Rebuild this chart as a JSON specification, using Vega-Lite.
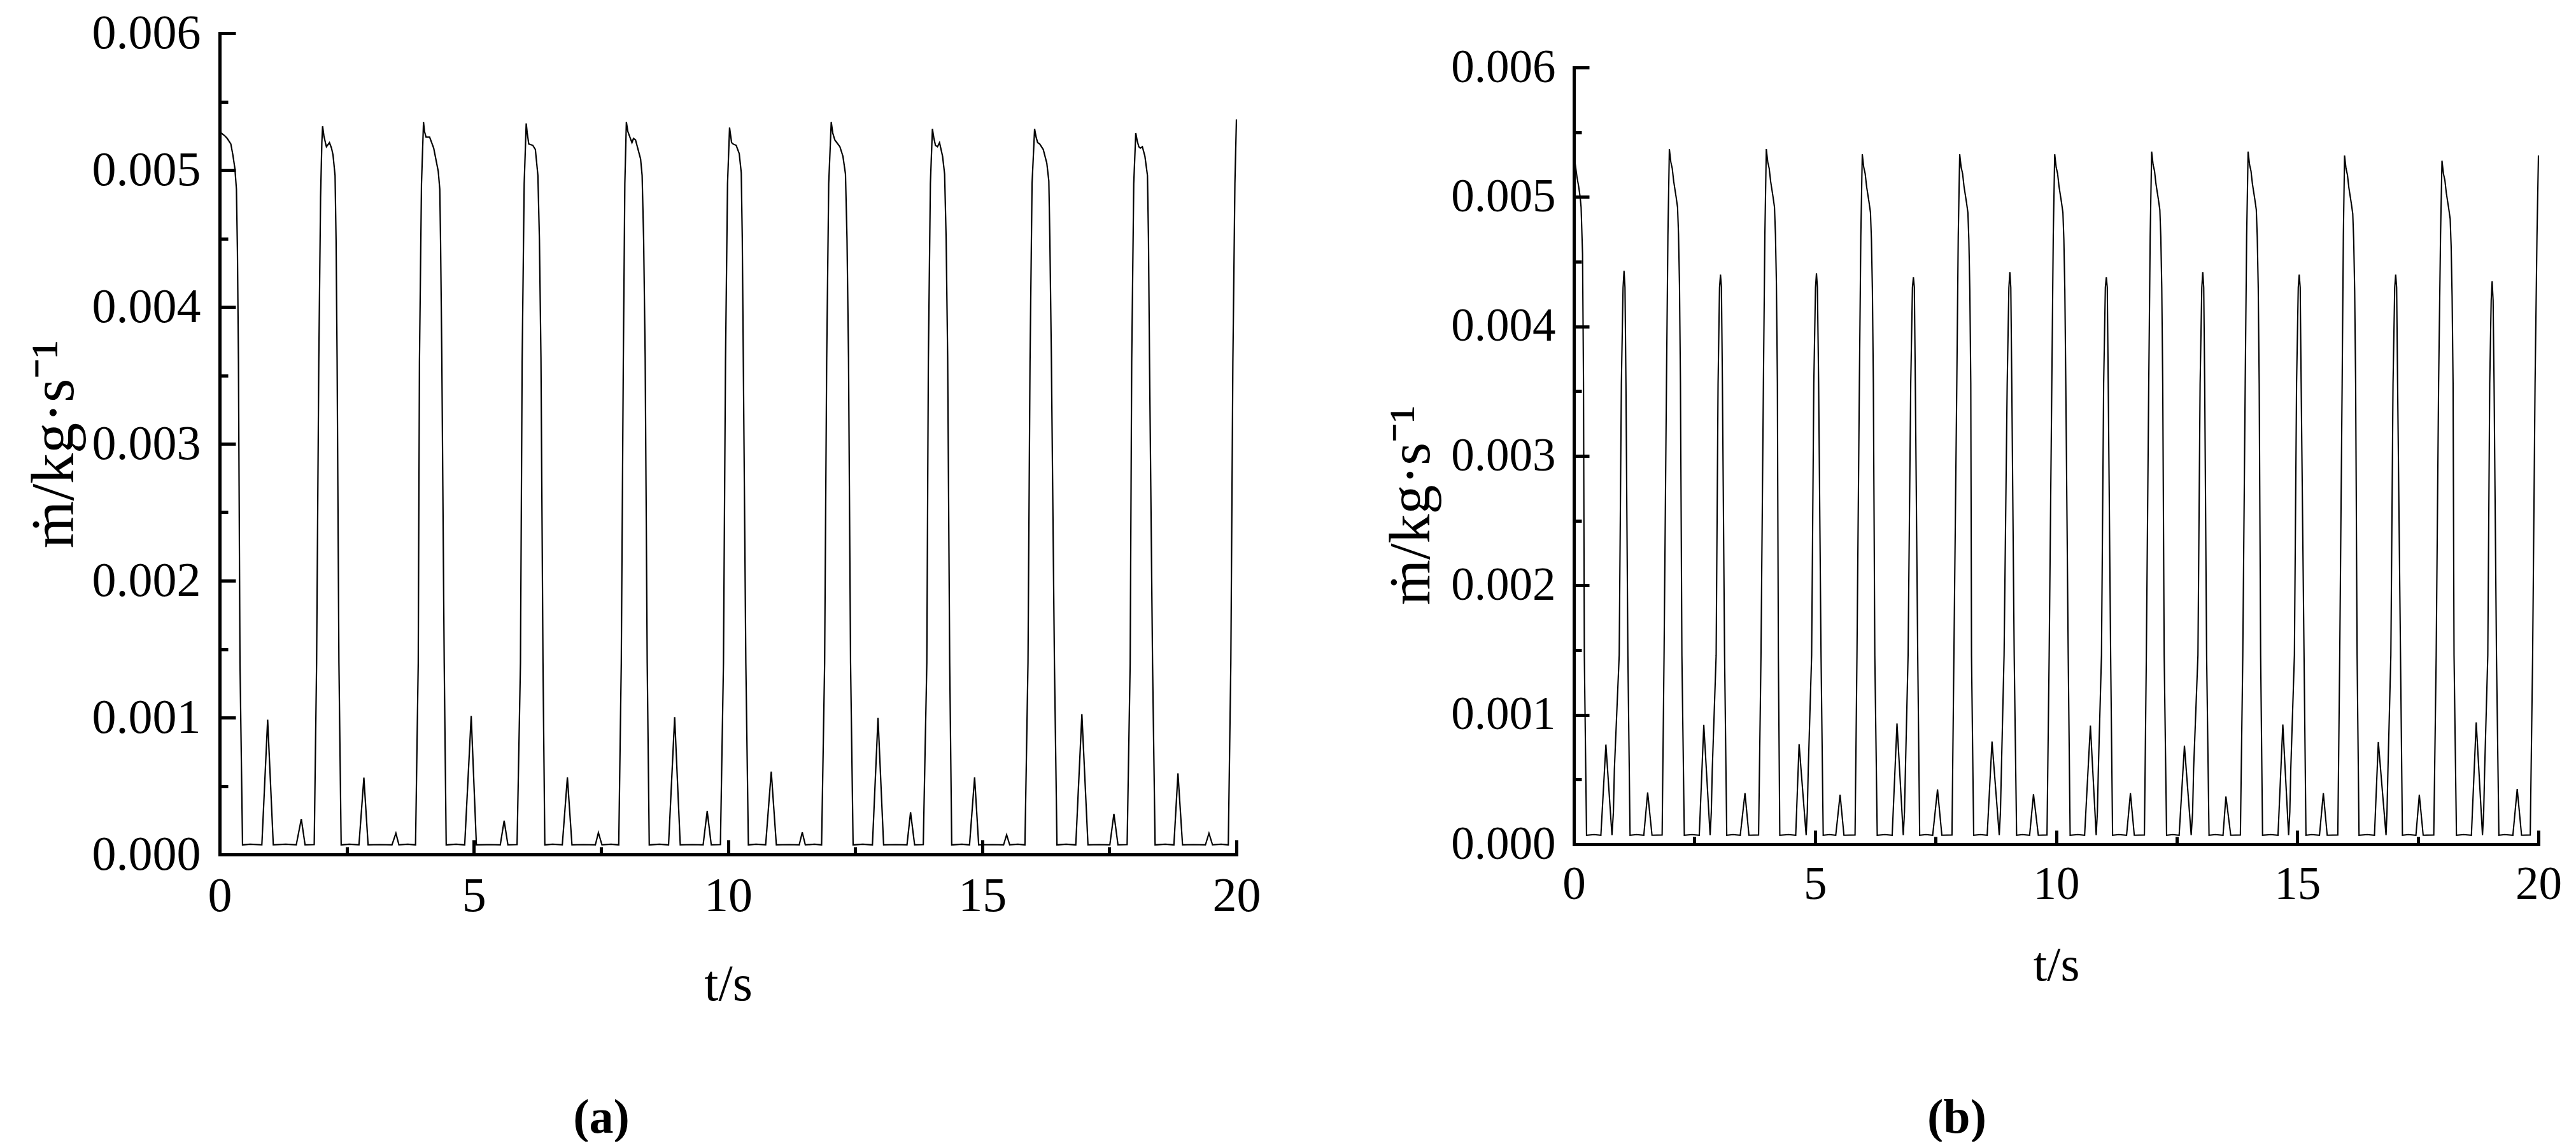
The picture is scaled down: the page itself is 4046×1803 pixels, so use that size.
{
  "$schema": "https://vega.github.io/schema/vega-lite/v6.json",
  "background": "white",
  "padding": {"left": 37, "top": 14, "right": 0, "bottom": 0},
  "spacing": 190,
  "config": {
    "font": "Liberation Serif",
    "view": {"stroke": null},
    "axis": {
      "grid": false,
      "domainColor": "black",
      "tickColor": "black",
      "labelColor": "black",
      "titleColor": "black",
      "domainWidth": 5,
      "tickWidth": 5,
      "domainCap": "square",
      "labelFont": "Liberation Serif",
      "titleFont": "Liberation Serif",
      "titleFontWeight": "normal",
      "labelFlush": false,
      "labelOverlap": false
    }
  },
  "datasets": {
    "a": [
      {"t":0,"m":0.00533},{"t":0.03,"m":0.00527},{"t":0.066,"m":0.00526},{"t":0.1,"m":0.00525},{"t":0.15,"m":0.00523},{"t":0.22,"m":0.00519},{"t":0.26,"m":0.00511},{"t":0.3,"m":0.00501},{"t":0.33,"m":0.00486},{"t":0.35,"m":0.0044},{"t":0.37,"m":0.0036},{"t":0.4,"m":0.0014},{"t":0.45,"m":0.00007},
      {"t":0.6,"m":0.000075},{"t":0.83,"m":0.00007},{"t":0.944,"m":0.000985},{"t":1.055,"m":0.00007},{"t":1.3,"m":0.000075},{"t":1.507,"m":0.00007},{"t":1.606,"m":0.00026},{"t":1.68,"m":0.00007},{"t":1.86,"m":0.000072},
      {"t":1.907,"m":0.0014},{"t":1.95,"m":0.0036},{"t":1.985,"m":0.0048},{"t":2.01,"m":0.0052},{"t":2.025,"m":0.00532},{"t":2.05,"m":0.00525},{"t":2.08,"m":0.0052},{"t":2.1,"m":0.00517},{"t":2.16,"m":0.0052},{"t":2.2,"m":0.00516},{"t":2.23,"m":0.00511},{"t":2.27,"m":0.00496},{"t":2.29,"m":0.00449},{"t":2.31,"m":0.00363},{"t":2.346,"m":0.0014},{"t":2.39,"m":0.00007},
      {"t":2.55,"m":0.000075},{"t":2.74,"m":0.00007},{"t":2.837,"m":0.000561},{"t":2.92,"m":0.00007},{"t":3.15,"m":0.000072},{"t":3.39,"m":0.00007},{"t":3.467,"m":0.000155},{"t":3.526,"m":0.00007},{"t":3.7,"m":0.000075},{"t":3.853,"m":0.00007},
      {"t":3.906,"m":0.0014},{"t":3.93,"m":0.0036},{"t":3.97,"m":0.0049},{"t":4.01,"m":0.00535},{"t":4.03,"m":0.00528},{"t":4.06,"m":0.00524},{"t":4.13,"m":0.00524},{"t":4.21,"m":0.00516},{"t":4.3,"m":0.00499},{"t":4.33,"m":0.00486},{"t":4.345,"m":0.00449},{"t":4.37,"m":0.00363},{"t":4.417,"m":0.0014},{"t":4.456,"m":0.00007},
      {"t":4.65,"m":0.000075},{"t":4.82,"m":0.00007},{"t":4.948,"m":0.001012},{"t":5.05,"m":0.00007},{"t":5.3,"m":0.000072},{"t":5.52,"m":0.00007},{"t":5.596,"m":0.000247},{"t":5.67,"m":0.00007},{"t":5.85,"m":0.000072},
      {"t":5.917,"m":0.0014},{"t":5.95,"m":0.0036},{"t":5.99,"m":0.0049},{"t":6.03,"m":0.00534},{"t":6.05,"m":0.00527},{"t":6.08,"m":0.00519},{"t":6.16,"m":0.00518},{"t":6.21,"m":0.00515},{"t":6.26,"m":0.00496},{"t":6.29,"m":0.00449},{"t":6.32,"m":0.00363},{"t":6.36,"m":0.0014},{"t":6.396,"m":0.00007},
      {"t":6.55,"m":0.000075},{"t":6.74,"m":0.00007},{"t":6.84,"m":0.000564},{"t":6.93,"m":0.00007},{"t":7.15,"m":0.000072},{"t":7.39,"m":0.00007},{"t":7.45,"m":0.000159},{"t":7.52,"m":0.00007},{"t":7.7,"m":0.000075},{"t":7.85,"m":0.00007},
      {"t":7.9,"m":0.0014},{"t":7.94,"m":0.0036},{"t":7.97,"m":0.0049},{"t":8.0,"m":0.00535},{"t":8.03,"m":0.00528},{"t":8.08,"m":0.00523},{"t":8.11,"m":0.0052},{"t":8.14,"m":0.00523},{"t":8.18,"m":0.00522},{"t":8.28,"m":0.00508},{"t":8.31,"m":0.00496},{"t":8.34,"m":0.00449},{"t":8.37,"m":0.00363},{"t":8.41,"m":0.0014},{"t":8.45,"m":0.00007},
      {"t":8.65,"m":0.000075},{"t":8.83,"m":0.00007},{"t":8.95,"m":0.001003},{"t":9.06,"m":0.00007},{"t":9.3,"m":0.000072},{"t":9.51,"m":0.00007},{"t":9.59,"m":0.000317},{"t":9.67,"m":0.00007},{"t":9.85,"m":0.000072},
      {"t":9.91,"m":0.0014},{"t":9.95,"m":0.0036},{"t":9.99,"m":0.0049},{"t":10.03,"m":0.00531},{"t":10.07,"m":0.0052},{"t":10.1,"m":0.00519},{"t":10.16,"m":0.00518},{"t":10.22,"m":0.00512},{"t":10.26,"m":0.00498},{"t":10.28,"m":0.0045},{"t":10.3,"m":0.00363},{"t":10.35,"m":0.0014},{"t":10.4,"m":0.00007},
      {"t":10.55,"m":0.000075},{"t":10.74,"m":0.00007},{"t":10.85,"m":0.000606},{"t":10.95,"m":0.00007},{"t":11.2,"m":0.000072},{"t":11.4,"m":0.00007},{"t":11.46,"m":0.000162},{"t":11.52,"m":0.00007},{"t":11.7,"m":0.000075},{"t":11.84,"m":0.00007},
      {"t":11.9,"m":0.0014},{"t":11.94,"m":0.0036},{"t":11.98,"m":0.0049},{"t":12.03,"m":0.00535},{"t":12.06,"m":0.00527},{"t":12.1,"m":0.00522},{"t":12.14,"m":0.0052},{"t":12.2,"m":0.00517},{"t":12.26,"m":0.0051},{"t":12.31,"m":0.00497},{"t":12.34,"m":0.0045},{"t":12.37,"m":0.00363},{"t":12.41,"m":0.0014},{"t":12.46,"m":0.00007},
      {"t":12.65,"m":0.000075},{"t":12.84,"m":0.00007},{"t":12.95,"m":0.000997},{"t":13.06,"m":0.00007},{"t":13.3,"m":0.000072},{"t":13.52,"m":0.00007},{"t":13.59,"m":0.000309},{"t":13.67,"m":0.00007},{"t":13.84,"m":0.000072},
      {"t":13.91,"m":0.0014},{"t":13.94,"m":0.0036},{"t":13.98,"m":0.0049},{"t":14.02,"m":0.0053},{"t":14.05,"m":0.00523},{"t":14.08,"m":0.00518},{"t":14.12,"m":0.00517},{"t":14.16,"m":0.0052},{"t":14.22,"m":0.0051},{"t":14.26,"m":0.00497},{"t":14.29,"m":0.0045},{"t":14.32,"m":0.00363},{"t":14.36,"m":0.0014},{"t":14.4,"m":0.00007},
      {"t":14.6,"m":0.000075},{"t":14.75,"m":0.00007},{"t":14.85,"m":0.000564},{"t":14.93,"m":0.00007},{"t":15.2,"m":0.000072},{"t":15.42,"m":0.00007},{"t":15.48,"m":0.000144},{"t":15.54,"m":0.00007},{"t":15.7,"m":0.000075},{"t":15.84,"m":0.00007},
      {"t":15.9,"m":0.0014},{"t":15.94,"m":0.0036},{"t":15.98,"m":0.0049},{"t":16.03,"m":0.0053},{"t":16.06,"m":0.00524},{"t":16.09,"m":0.0052},{"t":16.13,"m":0.00519},{"t":16.2,"m":0.00515},{"t":16.27,"m":0.00505},{"t":16.31,"m":0.00492},{"t":16.33,"m":0.0045},{"t":16.36,"m":0.00363},{"t":16.42,"m":0.0014},{"t":16.47,"m":0.00007},
      {"t":16.65,"m":0.000075},{"t":16.84,"m":0.00007},{"t":16.96,"m":0.001025},{"t":17.08,"m":0.00007},{"t":17.3,"m":0.000072},{"t":17.51,"m":0.00007},{"t":17.59,"m":0.000297},{"t":17.67,"m":0.00007},{"t":17.85,"m":0.000072},
      {"t":17.91,"m":0.0014},{"t":17.94,"m":0.0036},{"t":17.98,"m":0.0049},{"t":18.02,"m":0.00527},{"t":18.05,"m":0.00521},{"t":18.08,"m":0.00517},{"t":18.11,"m":0.00516},{"t":18.15,"m":0.00517},{"t":18.2,"m":0.0051},{"t":18.25,"m":0.00496},{"t":18.27,"m":0.0045},{"t":18.29,"m":0.00363},{"t":18.35,"m":0.0014},{"t":18.4,"m":0.00007},
      {"t":18.6,"m":0.000075},{"t":18.77,"m":0.00007},{"t":18.85,"m":0.000593},{"t":18.94,"m":0.00007},{"t":19.15,"m":0.000072},{"t":19.39,"m":0.00007},{"t":19.46,"m":0.000155},{"t":19.53,"m":0.00007},{"t":19.7,"m":0.000075},{"t":19.84,"m":0.00007},
      {"t":19.89,"m":0.0014},{"t":19.93,"m":0.0036},{"t":19.97,"m":0.0049},{"t":20.0,"m":0.00537}
    ],
    "b": [
      {"t":0,"m":0.00535},{"t":0.03,"m":0.00525},{"t":0.066,"m":0.00515},{"t":0.1,"m":0.00508},{"t":0.13,"m":0.005},{"t":0.15,"m":0.00492},{"t":0.18,"m":0.00456},{"t":0.2,"m":0.00356},{"t":0.217,"m":0.00146},{"t":0.263,"m":0.00007},
      {"t":0.42,"m":0.000075},{"t":0.56,"m":0.00007},{"t":0.664,"m":0.00077},{"t":0.79,"m":0.00007},{"t":0.82,"m":0.00025},{"t":0.84,"m":0.00058},{"t":0.94,"m":0.00146},{"t":0.985,"m":0.00356},{"t":1.02,"m":0.0043},{"t":1.04,"m":0.00443},{"t":1.06,"m":0.0043},{"t":1.08,"m":0.00356},{"t":1.12,"m":0.00146},{"t":1.165,"m":0.00007},{"t":1.3,"m":0.000075},{"t":1.45,"m":0.00007},{"t":1.53,"m":0.0004},{"t":1.62,"m":0.00007},{"t":1.83,"m":0.000072},
      {"t":1.87,"m":0.00146},{"t":1.92,"m":0.00356},{"t":1.95,"m":0.0047},{"t":1.98,"m":0.00537},{"t":2.01,"m":0.00527},{"t":2.04,"m":0.00522},{"t":2.07,"m":0.00512},{"t":2.12,"m":0.005},{"t":2.15,"m":0.00492},{"t":2.17,"m":0.00471},{"t":2.19,"m":0.00432},{"t":2.21,"m":0.00356},{"t":2.24,"m":0.00146},{"t":2.29,"m":0.00007},
      {"t":2.45,"m":0.000075},{"t":2.6,"m":0.00007},{"t":2.694,"m":0.000922},{"t":2.825,"m":0.00007},{"t":2.85,"m":0.00025},{"t":2.87,"m":0.00058},{"t":2.95,"m":0.00146},{"t":2.99,"m":0.00356},{"t":3.02,"m":0.0043},{"t":3.04,"m":0.0044},{"t":3.06,"m":0.0043},{"t":3.08,"m":0.00356},{"t":3.125,"m":0.00146},{"t":3.17,"m":0.00007},{"t":3.3,"m":0.000075},{"t":3.45,"m":0.00007},{"t":3.548,"m":0.000395},{"t":3.63,"m":0.00007},{"t":3.83,"m":0.000072},
      {"t":3.88,"m":0.00146},{"t":3.93,"m":0.00356},{"t":3.96,"m":0.0047},{"t":3.99,"m":0.00537},{"t":4.02,"m":0.00527},{"t":4.05,"m":0.00522},{"t":4.08,"m":0.00512},{"t":4.13,"m":0.005},{"t":4.16,"m":0.00492},{"t":4.18,"m":0.00471},{"t":4.2,"m":0.00432},{"t":4.22,"m":0.00356},{"t":4.24,"m":0.00146},{"t":4.27,"m":0.00007},
      {"t":4.45,"m":0.000075},{"t":4.6,"m":0.00007},{"t":4.67,"m":0.000773},{"t":4.816,"m":0.00007},{"t":4.84,"m":0.00025},{"t":4.86,"m":0.00058},{"t":4.93,"m":0.00146},{"t":4.975,"m":0.00356},{"t":5.01,"m":0.0043},{"t":5.03,"m":0.00441},{"t":5.05,"m":0.0043},{"t":5.075,"m":0.00356},{"t":5.125,"m":0.00146},{"t":5.17,"m":0.00007},{"t":5.3,"m":0.000075},{"t":5.43,"m":0.00007},{"t":5.52,"m":0.000383},{"t":5.6,"m":0.00007},{"t":5.83,"m":0.000072},
      {"t":5.87,"m":0.00146},{"t":5.92,"m":0.00356},{"t":5.95,"m":0.0047},{"t":5.98,"m":0.00533},{"t":6.01,"m":0.00523},{"t":6.04,"m":0.00518},{"t":6.07,"m":0.00508},{"t":6.12,"m":0.00496},{"t":6.15,"m":0.00488},{"t":6.17,"m":0.00467},{"t":6.19,"m":0.00428},{"t":6.21,"m":0.00356},{"t":6.24,"m":0.00146},{"t":6.29,"m":0.00007},
      {"t":6.45,"m":0.000075},{"t":6.6,"m":0.00007},{"t":6.7,"m":0.000933},{"t":6.83,"m":0.00007},{"t":6.855,"m":0.00025},{"t":6.875,"m":0.00058},{"t":6.93,"m":0.00146},{"t":6.985,"m":0.00356},{"t":7.02,"m":0.0043},{"t":7.04,"m":0.00438},{"t":7.06,"m":0.0043},{"t":7.08,"m":0.00356},{"t":7.13,"m":0.00146},{"t":7.17,"m":0.00007},{"t":7.3,"m":0.000075},{"t":7.44,"m":0.00007},{"t":7.54,"m":0.000424},{"t":7.63,"m":0.00007},{"t":7.84,"m":0.000072},
      {"t":7.88,"m":0.00146},{"t":7.94,"m":0.00356},{"t":7.97,"m":0.0047},{"t":8.0,"m":0.00533},{"t":8.03,"m":0.00523},{"t":8.06,"m":0.00518},{"t":8.09,"m":0.00508},{"t":8.14,"m":0.00496},{"t":8.17,"m":0.00488},{"t":8.19,"m":0.00467},{"t":8.21,"m":0.00428},{"t":8.23,"m":0.00356},{"t":8.245,"m":0.00146},{"t":8.29,"m":0.00007},
      {"t":8.43,"m":0.000075},{"t":8.57,"m":0.00007},{"t":8.67,"m":0.000794},{"t":8.82,"m":0.00007},{"t":8.845,"m":0.00025},{"t":8.865,"m":0.00058},{"t":8.92,"m":0.00146},{"t":8.985,"m":0.00356},{"t":9.02,"m":0.0043},{"t":9.04,"m":0.00442},{"t":9.06,"m":0.0043},{"t":9.08,"m":0.00356},{"t":9.13,"m":0.00146},{"t":9.18,"m":0.00007},{"t":9.3,"m":0.000075},{"t":9.45,"m":0.00007},{"t":9.53,"m":0.000387},{"t":9.63,"m":0.00007},{"t":9.81,"m":0.000072},
      {"t":9.855,"m":0.00146},{"t":9.91,"m":0.00356},{"t":9.94,"m":0.0047},{"t":9.97,"m":0.00533},{"t":10.0,"m":0.00523},{"t":10.03,"m":0.00518},{"t":10.06,"m":0.00508},{"t":10.11,"m":0.00496},{"t":10.14,"m":0.00488},{"t":10.16,"m":0.00467},{"t":10.18,"m":0.00428},{"t":10.2,"m":0.00356},{"t":10.25,"m":0.00146},{"t":10.29,"m":0.00007},
      {"t":10.45,"m":0.000075},{"t":10.59,"m":0.00007},{"t":10.71,"m":0.000917},{"t":10.83,"m":0.00007},{"t":10.855,"m":0.00025},{"t":10.875,"m":0.00058},{"t":10.94,"m":0.00146},{"t":10.985,"m":0.00356},{"t":11.02,"m":0.0043},{"t":11.04,"m":0.00438},{"t":11.06,"m":0.0043},{"t":11.08,"m":0.00356},{"t":11.13,"m":0.00146},{"t":11.17,"m":0.00007},{"t":11.3,"m":0.000075},{"t":11.46,"m":0.00007},{"t":11.54,"m":0.000395},{"t":11.62,"m":0.00007},{"t":11.83,"m":0.000072},
      {"t":11.87,"m":0.00146},{"t":11.92,"m":0.00356},{"t":11.95,"m":0.0047},{"t":11.98,"m":0.00535},{"t":12.01,"m":0.00525},{"t":12.04,"m":0.0052},{"t":12.07,"m":0.0051},{"t":12.12,"m":0.00498},{"t":12.15,"m":0.0049},{"t":12.17,"m":0.00469},{"t":12.19,"m":0.0043},{"t":12.21,"m":0.00356},{"t":12.24,"m":0.00146},{"t":12.29,"m":0.00007},
      {"t":12.42,"m":0.000075},{"t":12.55,"m":0.00007},{"t":12.66,"m":0.000762},{"t":12.8,"m":0.00007},{"t":12.83,"m":0.00025},{"t":12.85,"m":0.00058},{"t":12.94,"m":0.00146},{"t":12.985,"m":0.00356},{"t":13.02,"m":0.0043},{"t":13.04,"m":0.00442},{"t":13.06,"m":0.0043},{"t":13.08,"m":0.00356},{"t":13.12,"m":0.00146},{"t":13.17,"m":0.00007},{"t":13.3,"m":0.000075},{"t":13.46,"m":0.00007},{"t":13.52,"m":0.00037},{"t":13.62,"m":0.00007},{"t":13.82,"m":0.000072},
      {"t":13.87,"m":0.00146},{"t":13.92,"m":0.00356},{"t":13.95,"m":0.0047},{"t":13.98,"m":0.00535},{"t":14.01,"m":0.00525},{"t":14.04,"m":0.0052},{"t":14.07,"m":0.0051},{"t":14.12,"m":0.00498},{"t":14.15,"m":0.0049},{"t":14.17,"m":0.00469},{"t":14.19,"m":0.0043},{"t":14.21,"m":0.00356},{"t":14.24,"m":0.00146},{"t":14.28,"m":0.00007},
      {"t":14.45,"m":0.000075},{"t":14.6,"m":0.00007},{"t":14.7,"m":0.000925},{"t":14.82,"m":0.00007},{"t":14.845,"m":0.00025},{"t":14.865,"m":0.00058},{"t":14.94,"m":0.00146},{"t":14.985,"m":0.00356},{"t":15.02,"m":0.0043},{"t":15.04,"m":0.0044},{"t":15.06,"m":0.0043},{"t":15.08,"m":0.00356},{"t":15.14,"m":0.00146},{"t":15.18,"m":0.00007},{"t":15.3,"m":0.000075},{"t":15.46,"m":0.00007},{"t":15.54,"m":0.000395},{"t":15.62,"m":0.00007},{"t":15.84,"m":0.000072},
      {"t":15.88,"m":0.00146},{"t":15.93,"m":0.00356},{"t":15.955,"m":0.0047},{"t":15.98,"m":0.00532},{"t":16.01,"m":0.00522},{"t":16.04,"m":0.00517},{"t":16.07,"m":0.00507},{"t":16.12,"m":0.00495},{"t":16.15,"m":0.00487},{"t":16.17,"m":0.00466},{"t":16.19,"m":0.00427},{"t":16.21,"m":0.00356},{"t":16.24,"m":0.00146},{"t":16.28,"m":0.00007},
      {"t":16.45,"m":0.000075},{"t":16.6,"m":0.00007},{"t":16.68,"m":0.000791},{"t":16.84,"m":0.00007},{"t":16.86,"m":0.00025},{"t":16.88,"m":0.00058},{"t":16.94,"m":0.00146},{"t":16.985,"m":0.00356},{"t":17.02,"m":0.0043},{"t":17.04,"m":0.0044},{"t":17.06,"m":0.0043},{"t":17.08,"m":0.00356},{"t":17.14,"m":0.00146},{"t":17.18,"m":0.00007},{"t":17.3,"m":0.000075},{"t":17.46,"m":0.00007},{"t":17.53,"m":0.000383},{"t":17.61,"m":0.00007},{"t":17.83,"m":0.000072},
      {"t":17.88,"m":0.00146},{"t":17.93,"m":0.00356},{"t":17.97,"m":0.0047},{"t":18.0,"m":0.00528},{"t":18.03,"m":0.00518},{"t":18.06,"m":0.00513},{"t":18.09,"m":0.00503},{"t":18.14,"m":0.00491},{"t":18.17,"m":0.00483},{"t":18.19,"m":0.00462},{"t":18.21,"m":0.00423},{"t":18.23,"m":0.00356},{"t":18.25,"m":0.00146},{"t":18.3,"m":0.00007},
      {"t":18.45,"m":0.000075},{"t":18.61,"m":0.00007},{"t":18.71,"m":0.000941},{"t":18.84,"m":0.00007},{"t":18.865,"m":0.00025},{"t":18.885,"m":0.00058},{"t":18.95,"m":0.00146},{"t":18.99,"m":0.00356},{"t":19.02,"m":0.0042},{"t":19.04,"m":0.00435},{"t":19.06,"m":0.0042},{"t":19.08,"m":0.00356},{"t":19.13,"m":0.00146},{"t":19.18,"m":0.00007},{"t":19.3,"m":0.000075},{"t":19.47,"m":0.00007},{"t":19.56,"m":0.000427},{"t":19.65,"m":0.00007},{"t":19.83,"m":0.000072},
      {"t":19.88,"m":0.00146},{"t":19.93,"m":0.00356},{"t":19.97,"m":0.0047},{"t":20.0,"m":0.00532}
    ]
  },
  "hconcat": [
    {
      "width": 1597,
      "height": 1290,
      "data": {"name": "a"},
      "layer": [
        {
          "mark": {"type": "line", "color": "black", "strokeWidth": 2.2},
          "encoding": {
            "x": {"field": "t", "type": "quantitative", "scale": {"domain": [0, 20], "nice": false},
              "axis": {"orient": "bottom", "values": [0, 5, 10, 15, 20], "tickSize": -23, "labelPadding": 51, "labelFontSize": 76, "title": "t/s", "titleFontSize": 80, "titlePadding": 62}},
            "y": {"field": "m", "type": "quantitative", "scale": {"domain": [0, 0.006], "nice": false},
              "axis": {"orient": "left", "values": [0, 0.001, 0.002, 0.003, 0.004, 0.005, 0.006], "format": ".3f", "tickSize": -25, "labelPadding": 55, "labelFontSize": 76, "title": "ṁ/kg·s⁻¹", "titleFontSize": 96, "titlePadding": 11}}
          }
        },
        {
          "mark": {"type": "line", "strokeOpacity": 0},
          "encoding": {
            "x": {"field": "t", "type": "quantitative",
              "axis": {"orient": "bottom", "values": [2.5, 7.5, 12.5, 17.5], "tickSize": -12, "labels": false, "domain": false, "title": "(a)", "titleFontSize": 76, "titleFontWeight": "bold", "titleX": 599, "titleY": 413, "titleAlign": "center", "titleBaseline": "middle"}},
            "y": {"field": "m", "type": "quantitative",
              "axis": {"orient": "left", "values": [0.0005, 0.0015, 0.0025, 0.0035, 0.0045, 0.0055], "tickSize": -13, "labels": false, "domain": false, "title": null}}
          }
        }
      ],
      "resolve": {"axis": {"x": "independent", "y": "independent"}}
    },
    {
      "width": 1515,
      "height": 1274,
      "data": {"name": "b"},
      "layer": [
        {
          "mark": {"type": "line", "color": "black", "strokeWidth": 2.1},
          "encoding": {
            "x": {"field": "t", "type": "quantitative", "scale": {"domain": [0, 20], "nice": false},
              "axis": {"orient": "bottom", "values": [0, 5, 10, 15, 20], "tickSize": -22, "labelPadding": 49, "labelFontSize": 73, "title": "t/s", "titleFontSize": 77, "titlePadding": 52}},
            "y": {"field": "m", "type": "quantitative", "scale": {"domain": [0, 0.006], "nice": false, "range": [1274, 54]},
              "axis": {"orient": "left", "values": [0, 0.001, 0.002, 0.003, 0.004, 0.005, 0.006], "format": ".3f", "tickSize": -24, "labelPadding": 53, "labelFontSize": 73, "title": "ṁ/kg·s⁻¹", "titleFontSize": 92, "titlePadding": 15, "titleY": 741}}
          }
        },
        {
          "mark": {"type": "line", "strokeOpacity": 0},
          "encoding": {
            "x": {"field": "t", "type": "quantitative",
              "axis": {"orient": "bottom", "values": [2.5, 7.5, 12.5, 17.5], "tickSize": -12, "labels": false, "domain": false, "title": "(b)", "titleFontSize": 76, "titleFontWeight": "bold", "titleX": 601, "titleY": 429, "titleAlign": "center", "titleBaseline": "middle"}},
            "y": {"field": "m", "type": "quantitative",
              "axis": {"orient": "left", "values": [0.0005, 0.0015, 0.0025, 0.0035, 0.0045, 0.0055], "tickSize": -12, "labels": false, "domain": false, "title": null}}
          }
        }
      ],
      "resolve": {"axis": {"x": "independent", "y": "independent"}}
    }
  ]
}
